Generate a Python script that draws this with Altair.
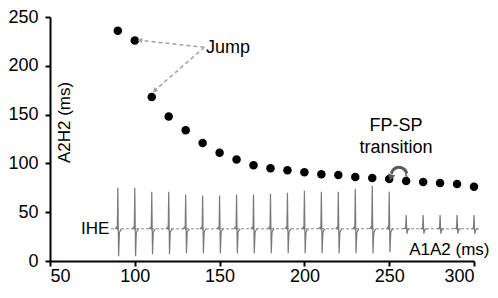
import math
import altair as alt
import pandas as pd

# ---- data ----
a1a2 = [90, 100, 110, 120, 130, 140, 150, 160, 170, 180, 190,
        200, 210, 220, 230, 240, 250, 260, 270, 280, 290, 300]
a2h2 = [236, 226, 168, 148, 134, 121, 111, 104, 98, 95, 93,
        91, 89, 88, 86, 85, 84, 82, 81, 80, 79, 76]

# inset IHE trace (in A2H2 units): spike tops / bottoms per beat
ihe_top = [75, 75, 71, 71, 68, 67, 67, 68, 68, 69, 70,
           72, 71, 71, 74, 77, 71, 47, 47, 47, 47, 47]
ihe_bottom = [5, 5, 7, 7, 8, 8, 8, 8, 8, 8, 8,
              8, 8, 8, 8, 8, 9, 28, 28, 28, 28, 28]
ihe_base = 33
ihe_start, ihe_end = 86, 303

# annotation anchors (data units)
jump_label = {"x": 142, "y": 218, "text": "Jump"}
jump_from = (141, 219)
jump_tips = [(103.5, 226), (112, 175)]
fpsp_lines = [("FP-SP", 254, 138), ("transition", 254, 116)]
curve_center = (255.8, 88)
curve_r = (4.6, 8.0)
ihe_label = {"x": 85, "y": 33, "text": "IHE"}

# ---- layout ----
W, H = 424, 244
PXX, PXY = W / 250.0, H / 250.0
FONT = "Liberation Sans"

xs = alt.Scale(domain=[50, 300], nice=False, zero=False)
ys = alt.Scale(domain=[0, 250], nice=False, zero=False)
xaxis = alt.Axis(values=[50, 100, 150, 200, 250, 300], title="A1A2 (ms)",
                 titleX=W + 15, titleY=-12, titleAlign="right",
                 titleBaseline="middle", titleAngle=0, labelPadding=1)
yaxis = alt.Axis(values=[0, 50, 100, 150, 200, 250], title="A2H2 (ms)",
                 titleX=14, titleY=105, titleAngle=270, titleAlign="center",
                 titleBaseline="middle", labelPadding=7)


def X(f="x"):
    return alt.X(f"{f}:Q", scale=xs, axis=xaxis)


def Y(f="y"):
    return alt.Y(f"{f}:Q", scale=ys, axis=yaxis)


# points
pts = pd.DataFrame({"x": a1a2, "y": a2h2})
points = alt.Chart(pts).mark_circle(color="black", opacity=1, size=72).encode(x=X(), y=Y())

# IHE trace beats
rows = []
for i, (x0, t, b) in enumerate(zip(a1a2, ihe_top, ihe_bottom)):
    amp = (t - ihe_base) / 40.0
    shape = [(-1.6, 0), (-0.8, 1.5 * amp), (-0.3, 0), (0.0, t - ihe_base),
             (0.45, b - ihe_base), (0.9, -4 * amp), (1.5, -1.5 * amp), (2.2, 0)]
    for k, (dx, dy) in enumerate(shape):
        rows.append({"x": x0 + dx, "y": ihe_base + dy, "beat": i, "o": k})
beats = pd.DataFrame(rows)
ecg = alt.Chart(beats).mark_line(color="#7a7a7a", strokeWidth=1.2).encode(
    x=X(), y=Y(), detail="beat:N", order="o:Q")

base_df = pd.DataFrame({"x": [ihe_start], "x2": [ihe_end], "y": [ihe_base]})
baseline = alt.Chart(base_df).mark_rule(color="#8a8a8a", strokeWidth=1,
                                        strokeDash=[3, 2]).encode(
    x=X(), x2="x2:Q", y=Y())

# Jump arrows
jr = pd.DataFrame({"x": [jump_from[0]] * 2, "y": [jump_from[1]] * 2,
                   "x2": [t[0] for t in jump_tips], "y2": [t[1] for t in jump_tips]})
jump_lines = alt.Chart(jr).mark_rule(color="#a6a6a6", strokeWidth=1.6,
                                     strokeDash=[4, 3]).encode(
    x=X(), y=Y(), x2="x2:Q", y2="y2:Q")
heads = []
for (tx, ty) in jump_tips:
    dxp = (tx - jump_from[0]) * PXX
    dyp = -(ty - jump_from[1]) * PXY
    ang = math.degrees(math.atan2(dxp, -dyp)) % 360
    heads.append({"x": tx, "y": ty, "a": ang})
jump_heads = alt.Chart(pd.DataFrame(heads)).mark_point(
    shape="triangle", filled=True, color="#a6a6a6", opacity=1, size=30).encode(
    x=X(), y=Y(), angle=alt.Angle("a:Q", scale=None))

txt = pd.DataFrame([jump_label])
jump_text = alt.Chart(txt).mark_text(align="left", baseline="middle", font=FONT,
                                     fontSize=18, color="black").encode(
    x=X(), y=Y(), text="text:N")

fp = pd.DataFrame([{"text": t, "x": x, "y": y} for t, x, y in fpsp_lines])
fp_text = alt.Chart(fp).mark_text(align="center", baseline="middle", font=FONT,
                                  fontSize=18, color="black").encode(
    x=X(), y=Y(), text="text:N")

# curved arrow
arc_rows = []
for k, deg in enumerate(range(-10, 171, 15)):
    r = math.radians(deg)
    arc_rows.append({"x": curve_center[0] + curve_r[0] * math.cos(r),
                     "y": curve_center[1] + curve_r[1] * math.sin(r), "o": k})
arc = alt.Chart(pd.DataFrame(arc_rows)).mark_line(
    color="#595959", strokeWidth=3, interpolate="monotone").encode(
    x=X(), y=Y(), order="o:Q")
arc_head_df = pd.DataFrame([{"x": curve_center[0] - curve_r[0] * 1.02,
                             "y": curve_center[1] - 1.5, "a": 195}])
arc_head = alt.Chart(arc_head_df).mark_point(
    shape="triangle", filled=True, color="#595959", opacity=1, size=55).encode(
    x=X(), y=Y(), angle=alt.Angle("a:Q", scale=None))

ihe_df = pd.DataFrame([ihe_label])
ihe_text = alt.Chart(ihe_df).mark_text(align="right", baseline="middle", font=FONT,
                                       fontSize=17, color="black").encode(
    x=X(), y=Y(), text="text:N")

chart = alt.layer(
    baseline, ecg, points, jump_lines, jump_heads, jump_text, fp_text, arc,
    arc_head, ihe_text
).properties(
    width=W, height=H,
    autosize=alt.AutoSizeParams(type="none"),
    padding={"left": 42, "top": 9, "right": 16, "bottom": 29},
).configure_view(stroke=None).configure_axis(
    grid=False, domainColor="black", domainWidth=2, tickColor="black",
    tickWidth=2, tickSize=5, labelFont=FONT, labelFontSize=18,
    labelColor="black", titleFont=FONT, titleFontSize=17,
    titleFontWeight="normal", titleColor="black",
)

chart.save("out.html", embed_options={"renderer": "svg", "actions": False})
